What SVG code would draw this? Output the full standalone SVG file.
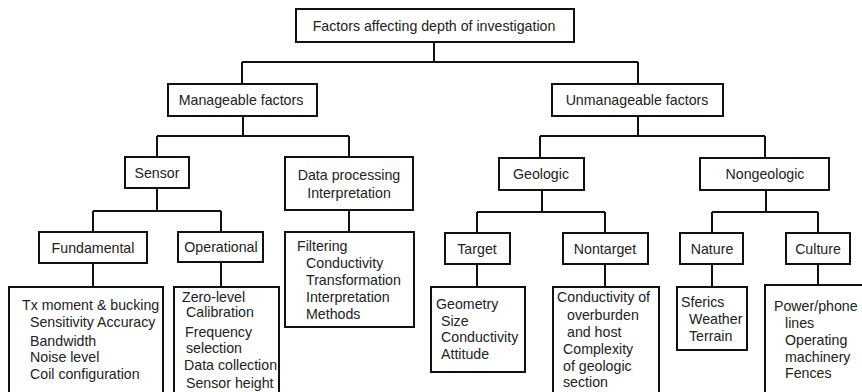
<svg xmlns="http://www.w3.org/2000/svg" width="862" height="392" viewBox="0 0 862 392">
<style>
.b{fill:#fff;stroke:#111;stroke-width:2}
.c{fill:none;stroke:#111;stroke-width:2}
text{font-family:"Liberation Sans",Arial,sans-serif;font-size:14.2px;fill:#222}
.m{text-anchor:middle}
</style>
<rect width="862" height="392" fill="#fff"/>
<g id="connectors">
<path class="c" d="M434 42V62M242 62H638M242 62V84M638 62V84"/>
<path class="c" d="M243 116V136M157 136H349M157 136V157M349 136V157"/>
<path class="c" d="M638 116V136M540 136H765M540 136V158M765 136V158"/>
<path class="c" d="M157 188V211M93 211H221M93 211V232M221 211V232"/>
<path class="c" d="M93 263V287M221 262V287M349 210V232"/>
<path class="c" d="M542 190V212M477 212H605M477 212V233M605 212V233"/>
<path class="c" d="M766 190V212M712 212H818M712 212V233M818 212V233"/>
<path class="c" d="M477 264V287M605 264V287M712 264V287M818 264V285"/>
</g>
<g id="root"><rect class="b" x="296" y="9" width="278" height="33"/><text class="m" x="434" y="31">Factors  affecting depth of investigation</text></g>
<g id="manageable"><rect class="b" x="168" y="84" width="149" height="32"/><text class="m" x="241" y="105">Manageable factors</text></g>
<g id="unmanageable"><rect class="b" x="552" y="84" width="171" height="32"/><text class="m" x="637" y="105">Unmanageable  factors</text></g>
<g id="sensor"><rect class="b" x="125" y="157" width="64" height="31"/><text class="m" x="157" y="178">Sensor</text></g>
<g id="dataproc"><rect class="b" x="285" y="157" width="128" height="53"/><text class="m" x="349" y="180">Data processing</text><text class="m" x="349" y="198">Interpretation</text></g>
<g id="geologic"><rect class="b" x="499" y="158" width="85" height="32"/><text class="m" x="541" y="179">Geologic</text></g>
<g id="nongeologic"><rect class="b" x="700" y="158" width="129" height="32"/><text class="m" x="765" y="179">Nongeologic</text></g>
<g id="fundamental"><rect class="b" x="39" y="232" width="108" height="31"/><text class="m" x="93" y="253">Fundamental</text></g>
<g id="operational"><rect class="b" x="178" y="232" width="85" height="30"/><text class="m" x="221" y="252">Operational</text></g>
<g id="target"><rect class="b" x="445" y="233" width="65" height="31"/><text class="m" x="477" y="254">Target</text></g>
<g id="nontarget"><rect class="b" x="563" y="233" width="85" height="31"/><text class="m" x="605" y="254">Nontarget</text></g>
<g id="nature"><rect class="b" x="680" y="233" width="63" height="31"/><text class="m" x="712" y="254">Nature</text></g>
<g id="culture"><rect class="b" x="786" y="233" width="64" height="31"/><text class="m" x="818" y="254">Culture</text></g>
<g id="fund-list"><rect class="b" x="9" y="287" width="154" height="110"/>
<text x="22" y="310">Tx moment &amp; bucking</text><text x="30" y="327">Sensitivity Accuracy</text><text x="30" y="346">Bandwidth</text><text x="30" y="362">Noise level</text><text x="30" y="379">Coil configuration</text></g>
<g id="oper-list"><rect class="b" x="174" y="287" width="105" height="110"/>
<text x="182" y="302">Zero-level</text><text x="186" y="317">Calibration</text><text x="185" y="337">Frequency</text><text x="186" y="353">selection</text><text x="184" y="370">Data collection</text><text x="186" y="388">Sensor height</text></g>
<g id="proc-list"><rect class="b" x="285" y="232" width="129" height="95"/>
<text x="297" y="251">Filtering</text><text x="306" y="268">Conductivity</text><text x="306" y="285">Transformation</text><text x="306" y="302">Interpretation</text><text x="306" y="319">Methods</text></g>
<g id="target-list"><rect class="b" x="431" y="287" width="94" height="85"/>
<text x="436" y="309">Geometry</text><text x="441" y="326">Size</text><text x="441" y="342">Conductivity</text><text x="441" y="359">Attitude</text></g>
<g id="nontarget-list"><rect class="b" x="553" y="287" width="106" height="110"/>
<text x="557" y="302">Conductivity of</text><text x="567" y="320">overburden</text><text x="567" y="337">and host</text><text x="563" y="354">Complexity</text><text x="563" y="371">of geologic</text><text x="563" y="387">section</text></g>
<g id="nature-list"><rect class="b" x="677" y="287" width="70" height="63"/>
<text x="681" y="307">Sferics</text><text x="689" y="324">Weather</text><text x="689" y="341">Terrain</text></g>
<g id="culture-list"><rect class="b" x="765" y="285" width="110" height="112"/>
<text x="774" y="311">Power/phone</text><text x="785" y="328">lines</text><text x="785" y="345">Operating</text><text x="785" y="362">machinery</text><text x="785" y="378">Fences</text></g>
</svg>
